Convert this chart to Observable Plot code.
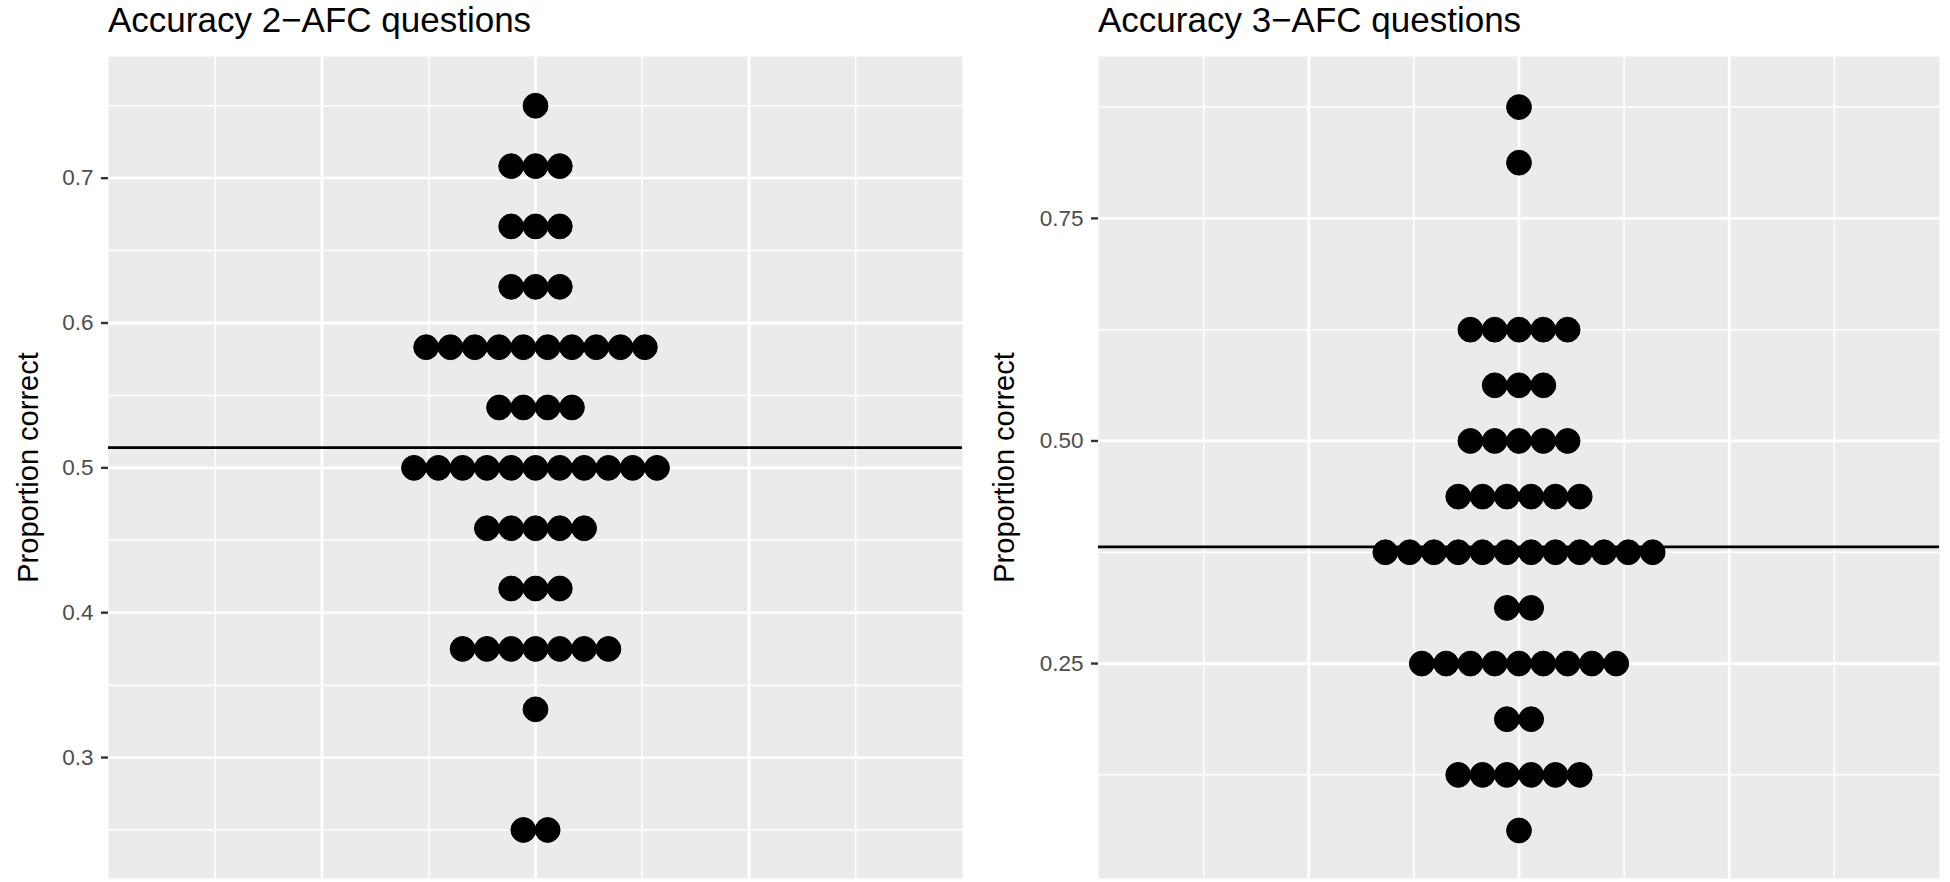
<!DOCTYPE html>
<html>
<head>
<meta charset="utf-8">
<script src="https://cdn.jsdelivr.net/npm/d3@7"></script>
<script src="https://cdn.jsdelivr.net/npm/@observablehq/plot@0.6"></script>
<style>
  html, body { margin: 0; padding: 0; background: #ffffff; }
  body { width: 1950px; height: 882px; overflow: hidden; font-family: "Liberation Sans", Arial, Helvetica, sans-serif; }
  #wrap { display: flex; flex-direction: row; width: 1950px; }
  .col { width: 975px; }
  .title { height: 44px; line-height: 40px; font-size: 35px; color: #000; white-space: nowrap; }
  svg { display: block; }
</style>
</head>
<body>
<div id="wrap">
  <div class="col" id="left"></div>
  <div class="col" id="right"></div>
</div>
<script>
// ---- data ----
const twoAfcTitle = "Accuracy 2\u2212AFC questions";
const twoAfcValues = [0.75, 0.7083, 0.6667, 0.625, 0.5833, 0.5417, 0.5, 0.4583, 0.4167, 0.375, 0.3333, 0.25];
const twoAfcCounts = [1, 3, 3, 3, 10, 4, 11, 5, 3, 7, 1, 2];
const twoAfcMean = 0.514;
const twoAfcTicks = [0.3, 0.4, 0.5, 0.6, 0.7];
const twoAfcMinor = [0.25, 0.35, 0.45, 0.55, 0.65, 0.75];

const threeAfcTitle = "Accuracy 3\u2212AFC questions";
const threeAfcValues = [0.875, 0.8125, 0.625, 0.5625, 0.5, 0.4375, 0.375, 0.3125, 0.25, 0.1875, 0.125, 0.0625];
const threeAfcCounts = [1, 1, 5, 3, 5, 6, 12, 2, 9, 2, 6, 1];
const threeAfcMean = 0.381;
const threeAfcTicks = [0.25, 0.5, 0.75];
const threeAfcMinor = [0.125, 0.375, 0.625, 0.875];

const yLabel = "Proportion correct";
const xMajor = [-2, 0, 2];
const xMinor = [-3, -1, 1, 3];

// ---- drawing ----
const FONT = '"Liberation Sans", Arial, Helvetica, sans-serif';
const DOT_PX = 24.3;

function stackDots(values, counts, step) {
  return values.flatMap((v, i) =>
    d3.range(counts[i]).map(k => ({value: v, off: (k - (counts[i] - 1) / 2) * step}))
  );
}

function panel(cfg) {
  const width = 975, height = 838;
  const innerW = width - cfg.marginLeft - cfg.marginRight;
  const step = DOT_PX * 8 / innerW;
  const pts = stackDots(cfg.values, cfg.counts, step);
  return Plot.plot({
    width, height,
    marginLeft: cfg.marginLeft, marginRight: cfg.marginRight,
    marginTop: 12, marginBottom: 4,
    style: {fontFamily: FONT, fontSize: "22.5px", background: "transparent", overflow: "visible"},
    x: {domain: [-4, 4], axis: null},
    y: {domain: cfg.domain},
    marks: [
      Plot.frame({fill: "#ebebeb", stroke: null}),
      Plot.ruleY(cfg.minor, {stroke: "#ffffff", strokeWidth: 1.5}),
      Plot.ruleX(xMinor, {stroke: "#ffffff", strokeWidth: 1.5}),
      Plot.ruleY(cfg.ticks, {stroke: "#ffffff", strokeWidth: 2.8}),
      Plot.ruleX(xMajor, {stroke: "#ffffff", strokeWidth: 2.8}),
      Plot.ruleY([cfg.mean], {stroke: "#000000", strokeWidth: 2.8}),
      Plot.dot(pts, {x: "off", y: "value", r: 12.4, fill: "#000000", stroke: "#000000", strokeWidth: 1}),
      Plot.axisY(cfg.ticks, {
        tickSize: 7, tickPadding: 8, tickFormat: d3.format(cfg.fmt),
        stroke: "#333333", strokeWidth: 2.4, fill: "#4d4d4d",
        fontSize: 22.5, label: null
      }),
      Plot.text([yLabel], {
        text: d => d, frameAnchor: "left", rotate: -90, dx: cfg.labelDx,
        textAnchor: "middle", fontSize: 29, fill: "#000000"
      })
    ]
  });
}

function build(el, title, cfg) {
  const t = document.createElement("div");
  t.className = "title";
  t.style.paddingLeft = cfg.marginLeft + "px";
  t.textContent = title;
  el.appendChild(t);
  el.appendChild(panel(cfg));
}

build(document.getElementById("left"), twoAfcTitle, {
  values: twoAfcValues, counts: twoAfcCounts, mean: twoAfcMean,
  ticks: twoAfcTicks, minor: twoAfcMinor, fmt: ".1f",
  domain: [0.2165, 0.784], marginLeft: 108, marginRight: 13, labelDx: -80
});
build(document.getElementById("right"), threeAfcTitle, {
  values: threeAfcValues, counts: threeAfcCounts, mean: threeAfcMean,
  ticks: threeAfcTicks, minor: threeAfcMinor, fmt: ".2f",
  domain: [0.0086, 0.9318], marginLeft: 123, marginRight: 11, labelDx: -94
});
</script>
</body>
</html>
